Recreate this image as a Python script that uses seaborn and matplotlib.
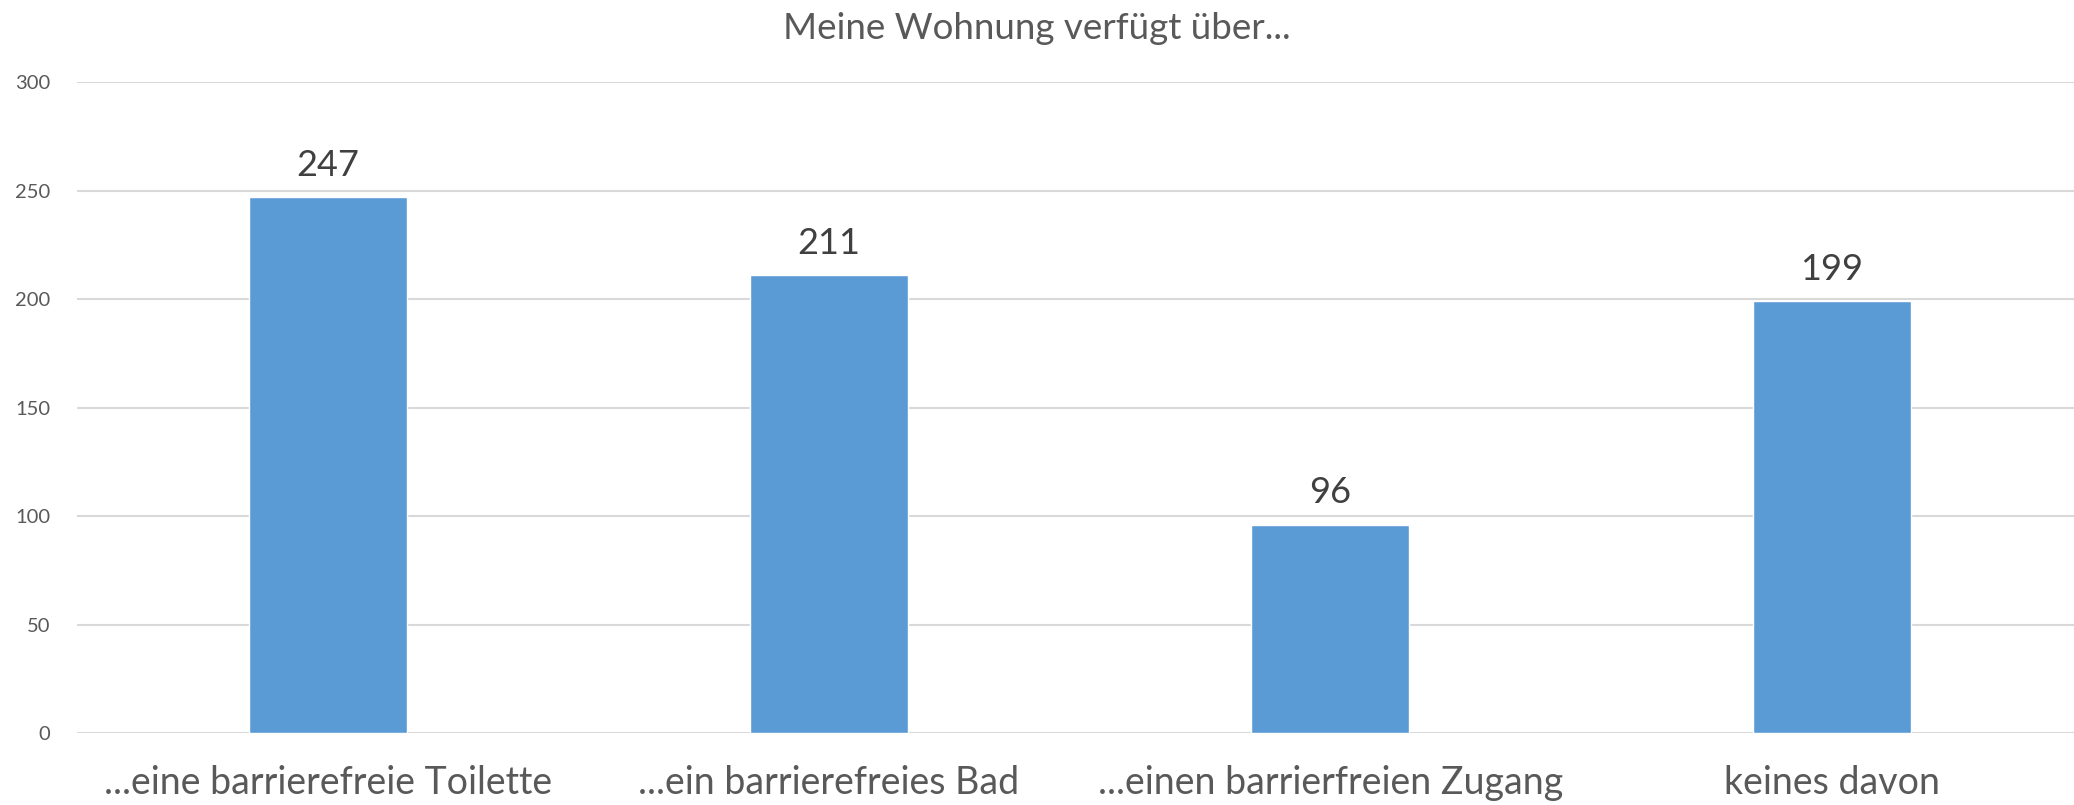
import matplotlib
matplotlib.use('Agg')
import matplotlib.pyplot as plt
import seaborn as sns
import pandas as pd

# chart data
categories = ['...eine barrierefreie Toilette', '...ein barrierefreies Bad',
              '...einen barrierfreien Zugang', 'keines davon']
counts = [247, 211, 96, 199]
y_ticks = [0, 50, 100, 150, 200, 250, 300]
title = 'Meine Wohnung verfügt über...'

data = pd.DataFrame({'category': categories, 'count': counts})

sns.set_style('white')
plt.rcParams['font.family'] = ['Lato', 'DejaVu Sans']

fig = plt.figure(figsize=(20.74, 8.05), dpi=100)
ax = fig.add_axes([0.0371, 0.0894, 0.967, 0.8086])

sns.barplot(data=data, x='category', y='count', color='#5B9BD5',
            saturation=1, width=0.315, ax=ax)

ax.set_ylim(0, 300)
ax.set_yticks(y_ticks)
ax.set_xlim(-0.5, len(categories) - 0.5)
ax.yaxis.grid(True, color='#D9D9D9', linewidth=1.5)
ax.set_axisbelow(True)
for side in ['top', 'right', 'left', 'bottom']:
    ax.spines[side].set_visible(False)

ax.tick_params(axis='y', length=0, pad=19, labelsize=14.5, labelcolor='#595959')
ax.tick_params(axis='x', length=0, pad=23, labelsize=27, labelcolor='#595959')
ax.set_xlabel('')
ax.set_ylabel('')

# value labels on top of the bars
ax.bar_label(ax.containers[0], labels=[str(v) for v in counts], padding=11,
             fontsize=26, color='#404040')

fig.suptitle(title, y=0.985, fontsize=26.5, color='#595959')

plt.savefig('out.png', dpi=100)
